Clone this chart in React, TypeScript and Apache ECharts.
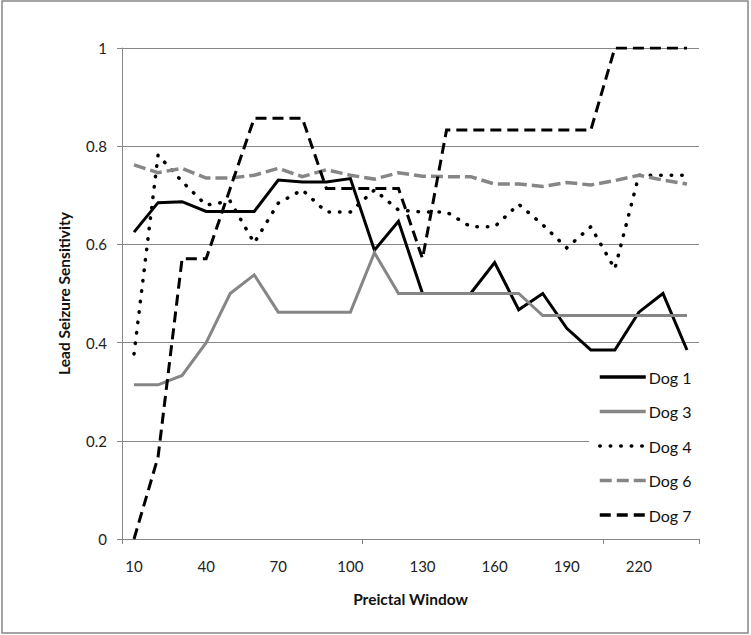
import React, { useEffect, useRef } from "react";
import * as echarts from "echarts";

const categories = ["10","20","30","40","50","60","70","80","90","100","110","120","130","140","150","160","170","180","190","200","210","220","230","240"];

const dog1 = [0.625, 0.685, 0.687, 0.667, 0.667, 0.667, 0.731, 0.727, 0.727, 0.734, 0.588, 0.647, 0.5, 0.5, 0.5, 0.563, 0.467, 0.5, 0.429, 0.385, 0.385, 0.462, 0.5, 0.385];
const dog3 = [0.314, 0.314, 0.333, 0.4, 0.5, 0.538, 0.462, 0.462, 0.462, 0.462, 0.583, 0.5, 0.5, 0.5, 0.5, 0.5, 0.5, 0.455, 0.455, 0.455, 0.455, 0.455, 0.455, 0.455];
const dog4 = [0.377, 0.782, 0.728, 0.68, 0.688, 0.603, 0.684, 0.711, 0.666, 0.666, 0.711, 0.67, 0.666, 0.666, 0.636, 0.636, 0.682, 0.64, 0.593, 0.636, 0.55, 0.741, 0.741, 0.741];
const dog6 = [0.762, 0.746, 0.755, 0.735, 0.735, 0.741, 0.755, 0.738, 0.752, 0.741, 0.733, 0.746, 0.739, 0.738, 0.738, 0.723, 0.723, 0.718, 0.726, 0.721, 0.73, 0.741, 0.731, 0.723];
const dog7 = [0, 0.167, 0.571, 0.571, 0.714, 0.857, 0.857, 0.857, 0.714, 0.714, 0.714, 0.714, 0.571, 0.833, 0.833, 0.833, 0.833, 0.833, 0.833, 0.833, 1, 1, 1, 1];

const seriesNames = ["Dog 1", "Dog 3", "Dog 4", "Dog 6", "Dog 7"];

const FONT = "Lato, 'Open Sans', sans-serif";
const GRAY = "#868686";

export default function App() {
  const ref = useRef<HTMLDivElement>(null);
  useEffect(() => {
    if (!ref.current) return;
    const chart = echarts.init(ref.current, undefined, { renderer: "svg" });
    const mk = (name: string, data: number[], color: string, type: any, width: number, cap: any = "butt") => ({
      name,
      type: "line",
      data,
      symbol: "none",
      showSymbol: false,
      lineStyle: { color, width, type, cap, join: "miter" },
      itemStyle: { color },
      emphasis: { disabled: true },
    });
    chart.setOption({
      animation: false,
      textStyle: { fontFamily: FONT },
      graphic: [
        {
          type: "rect",
          shape: { x: 2, y: 1, width: 746, height: 632 },
          style: { fill: "none", stroke: GRAY, lineWidth: 1.5 },
          silent: true,
        },
      ],
      grid: { left: 122, top: 48, right: 52, bottom: 96 },
      legend: {
        data: seriesNames,
        orient: "vertical",
        left: 589,
        top: 363,
        padding: [6, 8, 6, 9],
        itemWidth: 46,
        itemHeight: 14,
        itemGap: 18.5,
        backgroundColor: "#ffffff",
        itemStyle: { color: "rgba(0,0,0,0)", borderWidth: 0, opacity: 0 },
        lineStyle: { width: 3.5, color: "inherit", type: "inherit", cap: "inherit" },
        textStyle: { fontFamily: FONT, fontSize: 16, color: "#111", padding: [0, 0, 0, -2] },
        selectedMode: false,
      },
      xAxis: {
        type: "category",
        data: categories,
        boundaryGap: true,
        name: "Preictal Window",
        nameLocation: "middle",
        nameGap: 52,
        nameTextStyle: { fontFamily: FONT, fontWeight: "bold", fontSize: 15.5, color: "#111" },
        axisLine: { show: true, lineStyle: { color: GRAY, width: 1 } },
        axisTick: { show: true, interval: 9, length: 5, inside: false, lineStyle: { color: GRAY } },
        axisLabel: { interval: 2, fontSize: 15, color: "#222", margin: 19, fontFamily: FONT },
        splitLine: { show: false },
      },
      yAxis: {
        type: "value",
        min: 0,
        max: 1,
        interval: 0.2,
        name: "Lead Seizure Sensitivity",
        nameLocation: "middle",
        nameGap: 50,
        nameRotate: 90,
        nameTextStyle: { fontFamily: FONT, fontWeight: "bold", fontSize: 15.5, color: "#111" },
        axisLine: { show: true, lineStyle: { color: GRAY, width: 1 } },
        axisTick: { show: true, length: 5, lineStyle: { color: GRAY } },
        axisLabel: { fontSize: 15, color: "#222", margin: 15, fontFamily: FONT },
        splitLine: { show: true, lineStyle: { color: GRAY, width: 1 } },
      },
      series: [
        mk("Dog 1", dog1, "#000000", "solid", 3),
        mk("Dog 3", dog3, "#868686", "solid", 3),
        mk("Dog 4", dog4, "#000000", [0.5, 10], 3.5, "round"),
        mk("Dog 6", dog6, "#868686", [12, 5], 3.5),
        mk("Dog 7", dog7, "#000000", [11, 6], 3),
      ],
    });
    return () => chart.dispose();
  }, []);
  return (
    <div
      ref={ref}
      style={{ position: "absolute", left: 0, top: 0, width: 751, height: 635, background: "#fff" }}
    />
  );
}
